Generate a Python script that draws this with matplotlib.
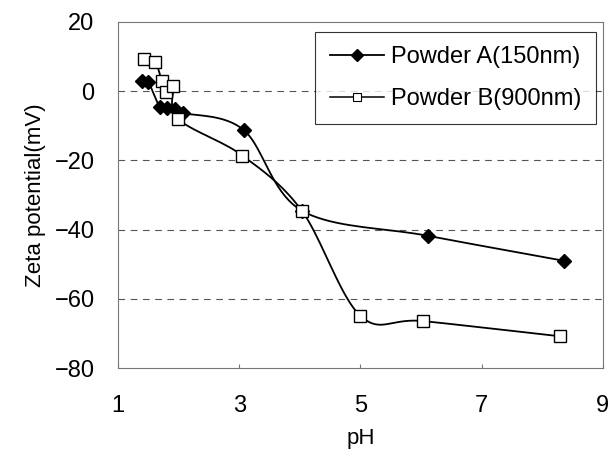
import numpy as np
import matplotlib.pyplot as plt

ph_a = [1.39, 1.50, 1.69, 1.80, 1.94, 2.07, 3.07, 4.03, 6.12, 8.36]
zeta_a = [3.0, 2.5, -4.7, -5.0, -5.2, -6.3, -11.2, -34.5, -41.8, -49.0]

ph_b = [1.42, 1.61, 1.72, 1.79, 1.91, 1.99, 3.05, 4.03, 5.00, 6.04, 8.30]
zeta_b = [9.4, 8.4, 3.0, -0.2, 1.5, -8.0, -18.6, -34.5, -64.9, -66.4, -70.8]


def smooth(x, y, n=20):
    # Catmull-Rom style curve through the points, like Excel's smoothed line
    x = np.asarray(x, float)
    y = np.asarray(y, float)
    px = np.concatenate([[x[0]], x, [x[-1]]])
    py = np.concatenate([[y[0]], y, [y[-1]]])
    xs, ys = [], []
    t = np.linspace(0, 1, n)
    for i in range(1, len(px) - 2):
        p0x, p1x, p2x, p3x = px[i - 1:i + 3]
        p0y, p1y, p2y, p3y = py[i - 1:i + 3]
        k = 1 / 6
        c1x, c1y = p1x + (p2x - p0x) * k, p1y + (p2y - p0y) * k
        c2x, c2y = p2x - (p3x - p1x) * k, p2y - (p3y - p1y) * k
        bx = (1 - t) ** 3 * p1x + 3 * (1 - t) ** 2 * t * c1x + 3 * (1 - t) * t ** 2 * c2x + t ** 3 * p2x
        by = (1 - t) ** 3 * p1y + 3 * (1 - t) ** 2 * t * c1y + 3 * (1 - t) * t ** 2 * c2y + t ** 3 * p2y
        xs.extend(bx)
        ys.extend(by)
    return xs, ys


plt.rcParams['font.family'] = ['Liberation Sans', 'DejaVu Sans']

fig = plt.figure(figsize=(6.12, 4.54), dpi=100)
ax = fig.add_axes([0.193, 0.189, 0.792, 0.763])

for yv in [0, -20, -40, -60]:
    ax.axhline(yv, color='#555555', lw=0.8, ls=(0, (6, 5)), zorder=0)

sx, sy = smooth(ph_a, zeta_a)
ax.plot(sx, sy, color='black', lw=1.3, zorder=2)
sx, sy = smooth(ph_b, zeta_b)
ax.plot(sx, sy, color='black', lw=1.3, zorder=2)

ax.plot(ph_a, zeta_a, ls='none', marker='D', ms=7, mfc='black', mec='black', zorder=3)
ax.plot(ph_b, zeta_b, ls='none', marker='s', ms=8, mfc='white', mec='black', mew=1, zorder=3)

# legend proxies
ax.plot([], [], color='black', lw=1.3, marker='D', ms=6, mfc='black', label='Powder A(150nm)')
ax.plot([], [], color='black', lw=1.1, marker='s', ms=6, mfc='white', mew=0.8, label='Powder B(900nm)')
leg = ax.legend(loc='upper right', bbox_to_anchor=(0.985, 0.971), fontsize=17, frameon=True,
                fancybox=False, edgecolor='black', handlelength=2.3, borderpad=0.6,
                labelspacing=0.85, handletextpad=0.3, borderaxespad=0)
leg.get_frame().set_linewidth(0.8)

ax.set_xlim(1, 9)
ax.set_ylim(-80, 20)
ax.set_xticks([1, 3, 5, 7, 9])
ax.set_yticks([20, 0, -20, -40, -60, -80])
ax.tick_params(axis='both', labelsize=17, direction='in', length=3, color='#777777')
ax.tick_params(axis='y', length=0, pad=17)
ax.tick_params(axis='x', pad=19)
for s in ax.spines.values():
    s.set_color('#777777')
    s.set_linewidth(0.8)

ax.set_xlabel('pH', fontsize=16, labelpad=8)
ax.set_ylabel('Zeta potential(mV)', fontsize=16, labelpad=6)

fig.savefig('out.png', dpi=100)
